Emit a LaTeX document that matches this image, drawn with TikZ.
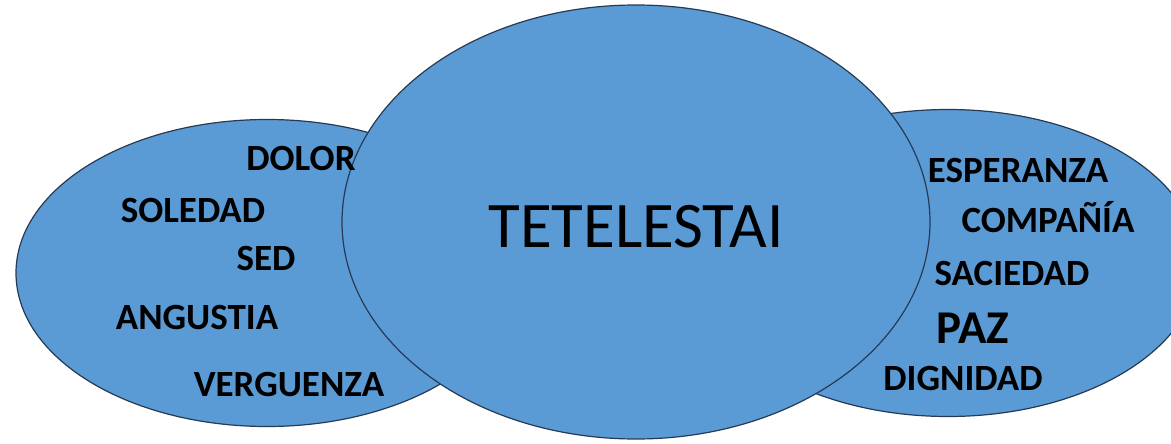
\documentclass[tikz,border=0pt]{standalone}
\usepackage{fontspec}
\setmainfont{Carlito}
\usetikzlibrary{shapes.geometric}
\definecolor{bubblefill}{RGB}{91,155,213}
\definecolor{bubbleline}{RGB}{38,58,84}

\begin{document}
\begin{tikzpicture}[
  x=1pt, y=-1pt,
  bubble/.style={ellipse, draw=bubbleline, line width=1.2pt, fill=bubblefill, inner sep=0pt},
  word/.style={anchor=base, inner sep=0pt, font=\fontsize{37}{40}\selectfont\bfseries},
  bigword/.style={anchor=base, inner sep=0pt, font=\fontsize{65}{70}\selectfont}
]
  \useasboundingbox (0,0) rectangle (1171,444);

  % elipses laterales
  \node[bubble, minimum width=502pt, minimum height=307pt] (left)  at (267,273) {};
  \node[bubble, minimum width=502pt, minimum height=307pt] (right) at (948,263) {};
  % elipse central
  \node[bubble, minimum width=588pt, minimum height=434pt] (center) at (636,222) {};

  \node[bigword] (tetelestai) at (636,247) {TETELESTAI};

  % izquierda
  \node[word] (dolor)     at (301,170) {DOLOR};
  \node[word] (soledad)   at (193,222) {SOLEDAD};
  \node[word] (sed)       at (266,270) {SED};
  \node[word] (angustia)  at (197,329) {ANGUSTIA};
  \node[word] (verguenza) at (289,396) {VERGUENZA};

  % derecha
  \node[word] (esperanza) at (1018,182) {ESPERANZA};
  \node[word] (compania)  at (1048,232) {COMPAÑÍA};
  \node[word] (saciedad)  at (1012,285) {SACIEDAD};
  \node[word, font=\fontsize{47}{50}\selectfont\bfseries] (paz) at (973,343) {PAZ};
  \node[word] (dignidad)  at (963,390) {DIGNIDAD};
\end{tikzpicture}
\end{document}
